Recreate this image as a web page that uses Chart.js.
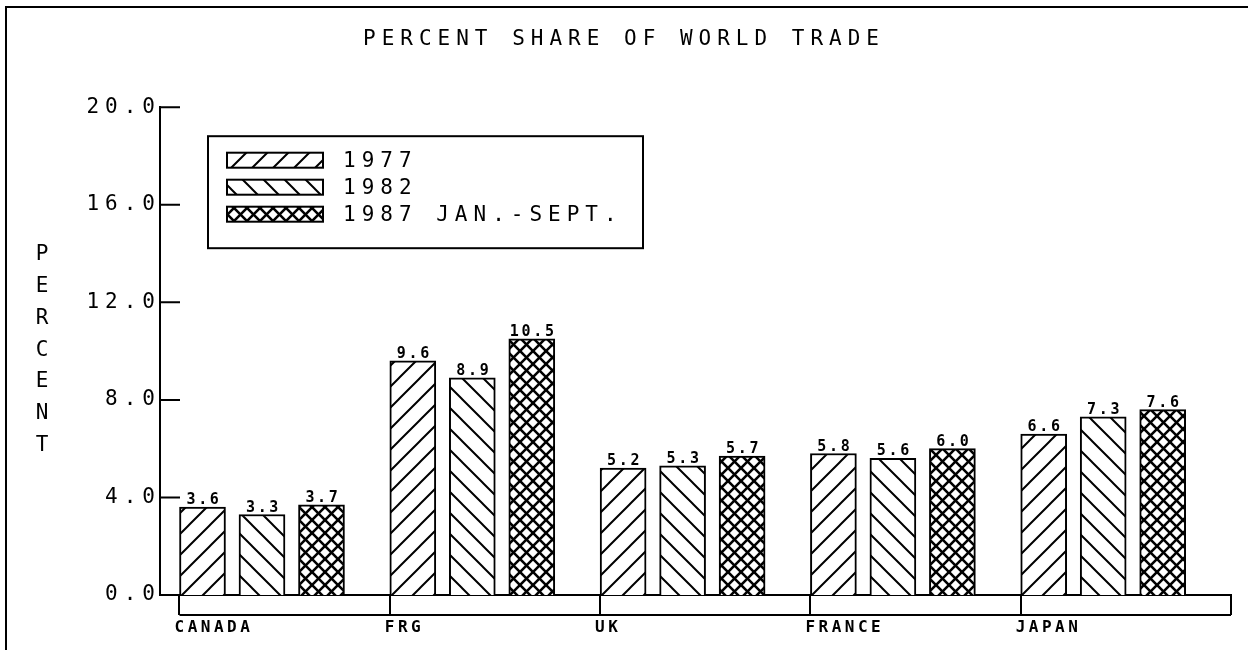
<!DOCTYPE html>
<html>
<head>
<meta charset="utf-8">
<title>Percent share of world trade</title>
<script src="https://cdn.jsdelivr.net/npm/chart.js@4.4.1/dist/chart.umd.min.js"></script>
<style>
  html, body { margin: 0; padding: 0; background: #fff; }
  #wrap { position: relative; width: 1248px; height: 650px; }
  #frame { position: absolute; left: 5px; top: 6px; right: 0; bottom: 0;
           border-top: 2px solid #000; border-left: 2px solid #000; pointer-events: none; }
</style>
</head>
<body>
<div id="wrap">
  <canvas id="chart" width="1248" height="650"></canvas>
  <div id="frame"></div>
</div>
<script>
// data
const countries = ['CANADA', 'FRG', 'UK', 'FRANCE', 'JAPAN'];
const seriesNames = ['1977', '1982', '1987 JAN.-SEPT.'];
const share1977 = [3.6, 9.6, 5.2, 5.8, 6.6];
const share1982 = [3.3, 8.9, 5.3, 5.6, 7.3];
const share1987 = [3.7, 10.5, 5.7, 6.0, 7.6];
const yTicks = [0, 4, 8, 12, 16, 20];
const yAxisTitle = 'PERCENT';
const chartTitle = 'PERCENT SHARE OF WORLD TRADE';

const FONT = '"DejaVu Sans Mono", monospace';

// bars sit at the left of each country slot (slot = 1 unit on x)
const barOffsets = [0.1094, 0.3923, 0.6752];

const canvas = document.getElementById('chart');
const mainCtx = canvas.getContext('2d');

function hatch(kind){
    const s = kind === 'cross' ? 13 : 21;
    const c = document.createElement('canvas');
    c.width = s; c.height = s;
    const g = c.getContext('2d');
    g.fillStyle = '#fff';
    g.fillRect(0, 0, s, s);
    g.strokeStyle = '#000';
    g.lineWidth = kind === 'cross' ? 2.6 : 2;
    function up(){
        g.beginPath();
        g.moveTo(-2, s + 2); g.lineTo(s + 2, -2);
        g.moveTo(-3, 3); g.lineTo(3, -3);
        g.moveTo(s - 3, s + 3); g.lineTo(s + 3, s - 3);
        g.stroke();
    }
    function down(){
        g.beginPath();
        g.moveTo(-2, -2); g.lineTo(s + 2, s + 2);
        g.moveTo(-3, s - 3); g.lineTo(3, s + 3);
        g.moveTo(s - 3, -3); g.lineTo(s + 3, 3);
        g.stroke();
    }
    if(kind === 'up' || kind === 'cross') up();
    if(kind === 'down' || kind === 'cross') down();
    return mainCtx.createPattern(c, 'repeat');
}

const seriesValues = [share1977, share1982, share1987];
const fills = [hatch('up'), hatch('down'), hatch('cross')];

const datasets = seriesNames.map((name, d) => ({
    label: name,
    data: seriesValues[d].map((v, i) => ({ x: i + barOffsets[d], y: v })),
    backgroundColor: fills[d],
    borderColor: '#000',
    borderWidth: 2,
    grouped: false,
    maxBarThickness: 46,
    barPercentage: 1,
    categoryPercentage: 1
}));

// plotter-like wide lettering for the default text
const spacing = {
    id: 'spacing',
    beforeDraw(chart){ chart.ctx.letterSpacing = '6px'; }
};

// inward ticks, category strip, labels, stacked axis title, legend
const decor = {
    id: 'decor',
    afterDraw(chart){
        const { ctx, chartArea } = chart;
        const x = chart.scales.x, y = chart.scales.y;
        ctx.save();
        ctx.strokeStyle = '#000';
        ctx.lineWidth = 2;
        ctx.beginPath();
        y.ticks.forEach(t => {
            const py = y.getPixelForValue(t.value);
            ctx.moveTo(chartArea.left, py);
            ctx.lineTo(chartArea.left + 20, py);
        });
        const by = x.top + 20;
        ctx.moveTo(x.getPixelForValue(0), by);
        ctx.lineTo(x.getPixelForValue(countries.length), by);
        ctx.stroke();

        ctx.fillStyle = '#000';
        // country names
        ctx.font = 'bold 16px ' + FONT;
        ctx.letterSpacing = '3.5px';
        ctx.textAlign = 'left';
        ctx.textBaseline = 'middle';
        countries.forEach((c, i) => ctx.fillText(c, x.getPixelForValue(i) - 5, by + 13));

        // value labels
        ctx.font = 'bold 15px ' + FONT;
        ctx.letterSpacing = '2.7px';
        ctx.textAlign = 'center';
        ctx.textBaseline = 'alphabetic';
        chart.data.datasets.forEach((ds, di) => {
            chart.getDatasetMeta(di).data.forEach((bar, i) => {
                ctx.fillText(ds.data[i].y.toFixed(1), bar.x + 1.5, bar.y - 3);
            });
        });

        // stacked axis title
        ctx.font = '21px ' + FONT;
        ctx.letterSpacing = '0px';
        ctx.textBaseline = 'middle';
        yAxisTitle.split('').forEach((ch, k) => ctx.fillText(ch, 42, 255 + k * 31.7));

        // legend
        const lx = chartArea.left + 48, ly = chartArea.top + 29;
        ctx.strokeRect(lx, ly, 435, 112);
        ctx.letterSpacing = '6px';
        ctx.textAlign = 'left';
        chart.data.datasets.forEach((ds, i) => {
            const cy = ly + 24 + i * 27;
            ctx.fillStyle = ds.backgroundColor;
            ctx.fillRect(lx + 19, cy - 7.5, 96, 15);
            ctx.strokeRect(lx + 19, cy - 7.5, 96, 15);
            ctx.fillStyle = '#000';
            ctx.fillText(ds.label, lx + 135, cy + 1);
        });
        ctx.restore();
    }
};

new Chart(canvas, {
    type: 'bar',
    data: { datasets },
    plugins: [spacing, decor],
    options: {
        responsive: false,
        animation: false,
        events: [],
        devicePixelRatio: 1,
        layout: { padding: { left: 17, right: 17, top: 0, bottom: 0 } },
        plugins: {
            legend: { display: false },
            tooltip: { enabled: false },
            title: {
                display: true,
                text: chartTitle,
                color: '#000',
                font: { family: FONT, size: 21, weight: 'normal', lineHeight: 1.2 },
                padding: { top: 27, bottom: 55 }
            }
        },
        scales: {
            x: {
                type: 'linear',
                offset: false,
                min: -0.0927,
                max: countries.length,
                afterBuildTicks: s => { s.ticks = countries.map((c, i) => ({ value: i })).concat([{ value: countries.length }]); },
                afterFit: s => { s.height = 55; },
                ticks: { display: false },
                grid: { display: true, offset: false, drawOnChartArea: false, drawTicks: true, tickLength: 20, lineWidth: 2, color: '#000' },
                border: { display: true, width: 2, color: '#000' }
            },
            y: {
                min: 0,
                max: 20,
                afterBuildTicks: s => { s.ticks = yTicks.map(v => ({ value: v })); },
                afterFit: s => { s.width = 143; },
                ticks: {
                    color: '#000',
                    padding: -1,
                    font: { family: FONT, size: 21, weight: 'normal' },
                    callback: v => Number(v).toFixed(1)
                },
                grid: { display: false, drawTicks: false },
                border: { display: true, width: 2, color: '#000' }
            }
        }
    }
});
</script>
</body>
</html>
